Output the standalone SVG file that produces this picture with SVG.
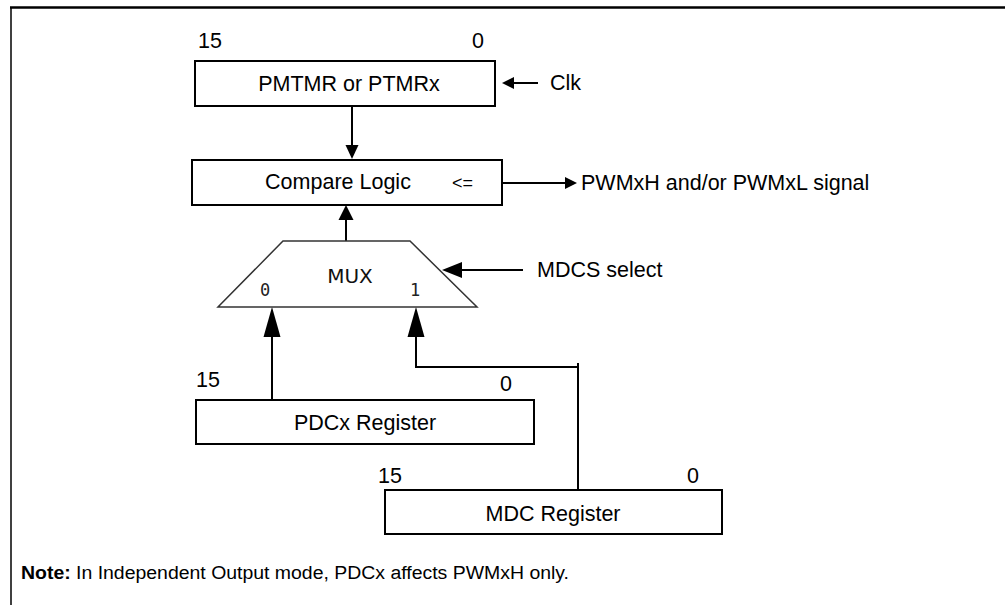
<svg xmlns="http://www.w3.org/2000/svg" width="1005" height="605" viewBox="0 0 1005 605">
  <style>
    .lbl { font-family: "Liberation Sans", Arial, sans-serif; font-size: 21.5px; fill: #000; }
    .box { fill: #fff; stroke: #000; stroke-width: 2; }
    .wire { fill: none; stroke: #000; stroke-width: 2; }
    .mono { font-family: "DejaVu Sans Mono", monospace; font-size: 17px; fill: #222; }
    .dv { font-family: "DejaVu Sans", sans-serif; font-size: 20px; fill: #111; }
    .head { fill: #000; stroke: none; }
  </style>
  <rect x="0" y="0" width="1005" height="605" fill="#fff"/>
  <g id="frame">
    <line x1="10" y1="7.5" x2="1005" y2="7.5" stroke="#000" stroke-width="2.5"/>
    <line x1="11" y1="7" x2="11" y2="605" stroke="#000" stroke-width="1.5"/>
  </g>

  <g id="connectors">
    <!-- Clk -->
    <line class="wire" x1="512" y1="83" x2="538" y2="83"/>
    <polygon class="head" points="502,83 514,77 514,89"/>
    <!-- PMTMR to Compare -->
    <line class="wire" x1="352" y1="106" x2="352" y2="146"/>
    <polygon class="head" points="352,159 345.5,145 358.5,145"/>
    <!-- Compare to output -->
    <line class="wire" x1="502" y1="183" x2="567" y2="183"/>
    <polygon class="head" points="577,183 565,177 565,189"/>
    <!-- MUX to Compare -->
    <line class="wire" x1="346" y1="241" x2="346" y2="219"/>
    <polygon class="head" points="346,205 338.5,220 353.5,220"/>
    <!-- MDCS select -->
    <line class="wire" x1="460" y1="270" x2="523" y2="270"/>
    <polygon class="head" points="442,270 462,262 462,278"/>
    <!-- PDCx to MUX 0 -->
    <line class="wire" x1="272" y1="400" x2="272" y2="335"/>
    <polygon class="head" points="272,307 263.5,337 280.5,337"/>
    <!-- MDC to MUX 1 -->
    <polyline class="wire" points="416,335 416,367 578,367 578,490"/>
    <line class="wire" x1="578" y1="363" x2="578" y2="368"/>
    <polygon class="head" points="416,307 407.5,337 424.5,337"/>
  </g>

  <g id="pmtmr">
    <rect class="box" x="195" y="61" width="300" height="45"/>
    <text class="lbl" x="349" y="91" text-anchor="middle">PMTMR or PTMRx</text>
    <text class="lbl" x="198" y="48">15</text>
    <text class="lbl" x="472" y="48">0</text>
  </g>
  <g id="clk">
    <text class="lbl" x="550" y="90">Clk</text>
  </g>

  <g id="compare">
    <rect class="box" x="192" y="160" width="310" height="45"/>
    <text class="lbl" x="338" y="189" text-anchor="middle">Compare Logic</text>
    <text class="lbl" x="452" y="189" style="font-size:18px">&lt;=</text>
  </g>
  <g id="output">
    <text class="lbl" x="581" y="190">PWMxH and/or PWMxL signal</text>
  </g>

  <g id="mux">
    <polygon points="283,241 410,241 477,307 218,307" fill="#fff" stroke="#333" stroke-width="1.5"/>
    <text class="dv" x="350" y="283" text-anchor="middle">MUX</text>
    <text class="mono" x="260" y="296">0</text>
    <text class="mono" x="410" y="296">1</text>
  </g>
  <g id="mdcs">
    <text class="lbl" x="537" y="277">MDCS select</text>
  </g>

  <g id="pdcx">
    <rect class="box" x="196" y="400" width="338" height="44"/>
    <text class="lbl" x="365" y="430" text-anchor="middle">PDCx Register</text>
    <text class="lbl" x="196" y="387">15</text>
    <text class="lbl" x="500" y="391">0</text>
  </g>

  <g id="mdc">
    <rect class="box" x="385" y="490" width="337" height="44"/>
    <text class="lbl" x="553" y="521" text-anchor="middle">MDC Register</text>
    <text class="lbl" x="378" y="483">15</text>
    <text class="lbl" x="687" y="483">0</text>
  </g>

  <g id="note">
    <text x="21" y="579" style="font-family:'Liberation Sans',Arial,sans-serif;font-size:18px" textLength="548" lengthAdjust="spacingAndGlyphs"><tspan font-weight="bold">Note:</tspan> In Independent Output mode, PDCx affects PWMxH only.</text>
  </g>
</svg>
